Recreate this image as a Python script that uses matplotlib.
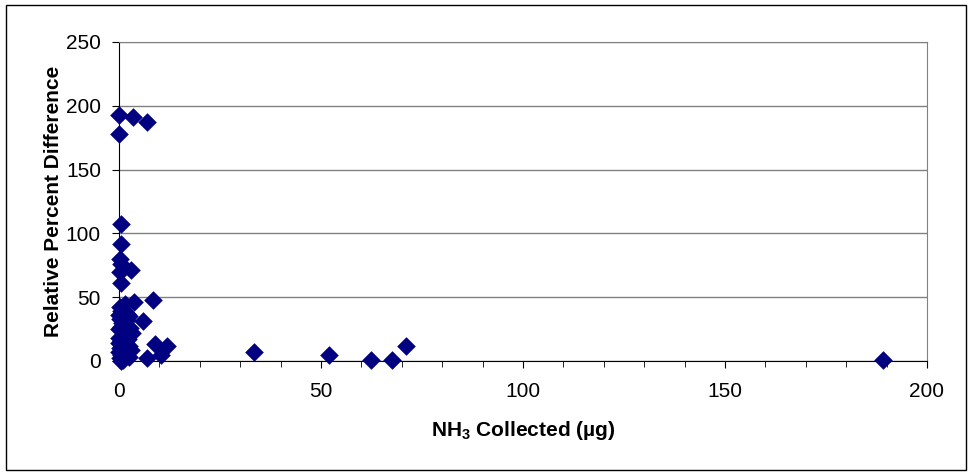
import matplotlib.pyplot as plt
from matplotlib.patches import Rectangle
from matplotlib.ticker import MultipleLocator

plt.rcParams['font.family'] = ['Liberation Sans', 'DejaVu Sans']
plt.rcParams['mathtext.fontset'] = 'custom'
plt.rcParams['mathtext.rm'] = 'Liberation Sans:bold'
plt.rcParams['mathtext.bf'] = 'Liberation Sans:bold'

# NH3 collected (ug) vs relative percent difference
nh3 = [0.0, 0.0, 3.5, 7.0,
       0.5, 0.5, 0.3, 0.5, 0.3, 3.0, 0.5,
       8.5, 3.8, 1.5, 6.0, 0.2, 0.5, 1.0, 2.0, 2.5,
       0.0, 0.3, 0.8, 1.2, 2.0, 2.8, 3.2, 0.1, 0.6, 1.5,
       0.0, 0.4, 1.0, 1.8, 2.5, 0.2, 0.7, 1.3, 2.2, 3.0,
       0.0, 0.5, 1.0, 1.6, 2.4, 0.3, 0.9, 1.4, 0.1, 0.6,
       9.0, 11.8, 10.5, 7.0,
       33.5, 52.0, 62.5, 67.5, 71.0, 189.0]
rpd = [193, 178, 191, 187,
       107, 92, 80, 76, 70, 71, 61,
       48, 46, 45, 31, 42, 39, 40, 37, 35,
       36, 33, 30, 28, 32, 26, 22, 25, 27, 20,
       18, 16, 15, 23, 12, 10, 13, 8, 17, 9,
       7, 5, 4, 6, 3, 2, 1, 11, 14, 0,
       13, 12, 5, 2,
       7, 5, 1, 1, 12, 1]

fig = plt.figure(figsize=(9.72, 4.76), dpi=100)
fig.patches.append(Rectangle((0.006, 0.012), 0.988, 0.978, transform=fig.transFigure,
                             fill=False, edgecolor='black', linewidth=1.0))
ax = fig.add_axes([0.1224, 0.2416, 0.8313, 0.6702])

ax.scatter(nh3, rpd, marker='D', s=90, color='#000080', linewidths=0,
           zorder=3, clip_on=False)

ax.set_xlim(0, 200)
ax.set_ylim(0, 250)
ax.xaxis.set_major_locator(MultipleLocator(50))
ax.xaxis.set_minor_locator(MultipleLocator(10))
ax.yaxis.set_major_locator(MultipleLocator(50))
ax.grid(axis='y', color='#808080', linewidth=1.0)
ax.set_axisbelow(True)
ax.spines['top'].set_color('#808080')
ax.spines['right'].set_color('#808080')
ax.tick_params(axis='both', labelsize=15, direction='out', length=5)
ax.tick_params(axis='x', which='minor', length=4)
ax.tick_params(axis='x', pad=10)
ax.tick_params(axis='y', pad=8)

ax.set_xlabel('NH$_3$ Collected (\u00b5g)', fontsize=15, fontweight='bold', labelpad=13)
ax.set_ylabel('Relative Percent Difference', fontsize=15, fontweight='bold', labelpad=2)

fig.savefig('out.png', dpi=100)
